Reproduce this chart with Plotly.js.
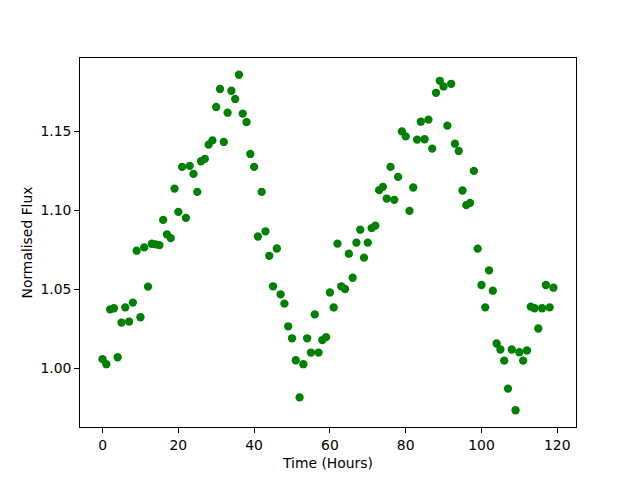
<!DOCTYPE html>
<html>
<head>
<meta charset="utf-8">
<script src="https://cdn.plot.ly/plotly-3.0.1.min.js"></script>
<style>html,body{margin:0;padding:0;background:#fff;}#chart{width:640px;height:480px;}</style>
</head>
<body>
<div id="chart"></div>
<script>
// Time in hours
const timeHours = [0,1,2,3,4,5,6,7,8,9,10,11,12,13,14,15,16,17,18,19,
  20,21,22,23,24,25,26,27,28,29,30,31,32,33,34,35,36,37,38,39,
  40,41,42,43,44,45,46,47,48,49,50,51,52,53,54,55,56,57,58,59,
  60,61,62,63,64,65,66,67,68,69,70,71,72,73,74,75,76,77,78,79,
  80,81,82,83,84,85,86,87,88,89,90,91,92,93,94,95,96,97,98,99,
  100,101,102,103,104,105,106,107,108,109,110,111,112,113,114,115,116,117,118,119];

// Normalised flux
const normFlux = [
  1.0059,1.0027,1.0374,1.0381,1.0071,1.0290,1.0387,1.0297,1.0417,1.0745,
  1.0324,1.0766,1.0518,1.0789,1.0785,1.0780,1.0940,1.0848,1.0825,1.1138,
  1.0991,1.1275,1.0953,1.1282,1.1231,1.1117,1.1311,1.1326,1.1416,1.1443,
  1.1654,1.1768,1.1433,1.1618,1.1757,1.1705,1.1858,1.1612,1.1559,1.1357,
  1.1275,1.0835,1.1117,1.0867,1.0713,1.0520,1.0759,1.0469,1.0410,1.0267,
  1.0191,1.0052,0.9817,1.0027,1.0191,1.0101,1.0342,1.0101,1.0180,1.0198,
  1.0481,1.0386,1.0790,1.0520,1.0503,1.0726,1.0574,1.0796,1.0878,1.0701,
  1.0796,1.0888,1.0904,1.1128,1.1149,1.1075,1.1275,1.1067,1.1212,1.1500,
  1.1468,1.0997,1.1145,1.1448,1.1561,1.1450,1.1574,1.1391,1.1744,1.1820,
  1.1784,1.1536,1.1801,1.1422,1.1376,1.1126,1.1033,1.1048,1.1250,1.0758,
  1.0528,1.0387,1.0621,1.0492,1.0158,1.0120,1.0050,0.9873,1.0120,0.9736,
  1.0103,1.0050,1.0114,1.0391,1.0381,1.0253,1.0381,1.0528,1.0387,1.0511];

const xTickVals = [0,20,40,60,80,100,120];
const yTickVals = [1.00,1.05,1.10,1.15];
const yTickText = ["1.00","1.05","1.10","1.15"];

function padRange(arr){
  const mn = Math.min.apply(null, arr), mx = Math.max.apply(null, arr);
  const m = (mx - mn) * 0.05;
  return [mn - m, mx + m];
}

const font = {family: "DejaVu Sans", size: 13.9, color: "#000"};
const axisCommon = {
  showline: true, mirror: true, linecolor: "#000", linewidth: 1,
  ticks: "outside", ticklen: 4.9, tickwidth: 1, tickcolor: "#000",
  showgrid: false, zeroline: false, tickfont: font
};

const trace = {
  x: timeHours, y: normFlux, type: "scatter", mode: "markers",
  marker: {color: "#008000", size: 8.3, line: {width: 0}},
  showlegend: false, hoverinfo: "skip"
};

const layout = {
  width: 640, height: 480,
  margin: {l: 80, r: 64, t: 58, b: 53, pad: 0},
  paper_bgcolor: "#fff", plot_bgcolor: "#fff",
  font: font,
  xaxis: Object.assign({}, axisCommon, {
    range: padRange(timeHours), tickmode: "array", tickvals: xTickVals,
    title: {text: "Time (Hours)", font: font, standoff: 6}
  }),
  yaxis: Object.assign({}, axisCommon, {
    range: padRange(normFlux), tickmode: "array", tickvals: yTickVals, ticktext: yTickText,
    title: {text: "Normalised Flux", font: font, standoff: 4}
  })
};

Plotly.newPlot("chart", [trace], layout, {staticPlot: true, displayModeBar: false});
</script>
</body>
</html>
